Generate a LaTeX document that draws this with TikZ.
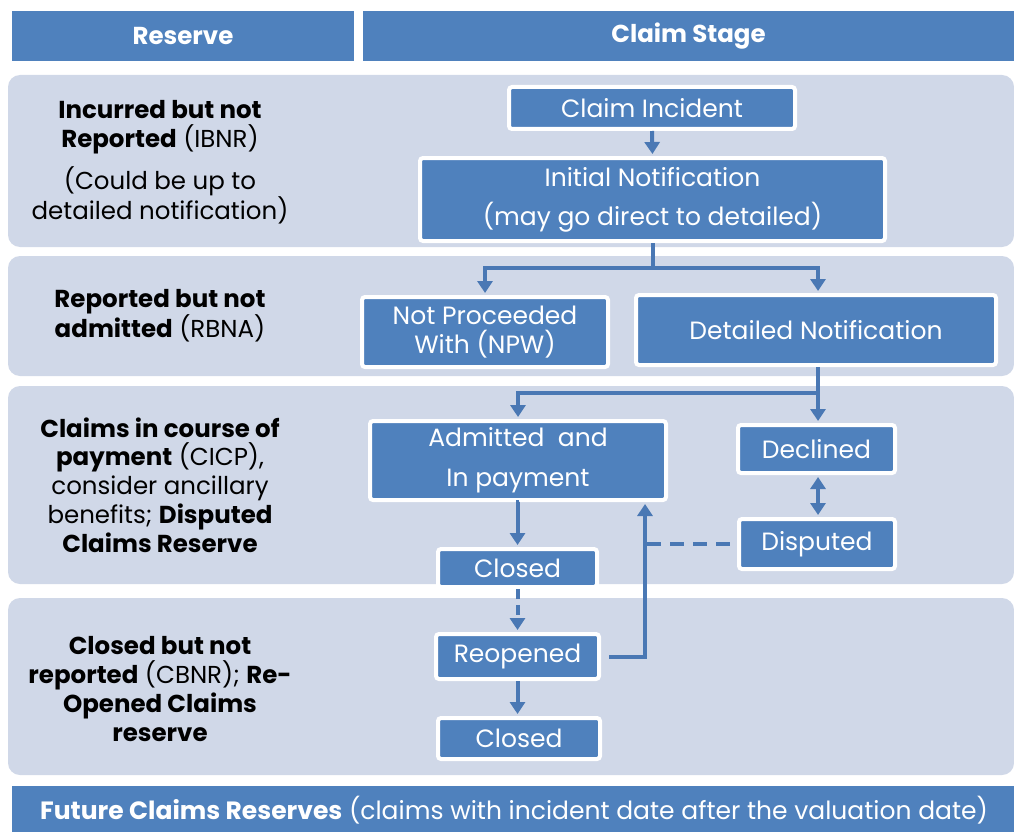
\documentclass[tikz,border=0pt]{standalone}
\usepackage{fontspec}
\setmainfont{Poppins}
\usetikzlibrary{arrows.meta}
\definecolor{hblue}{HTML}{4F81BD}
\definecolor{aline}{HTML}{4A78B4}
\definecolor{band}{HTML}{D0D8E8}
\tikzset{
  box/.style={fill=hblue, draw=white, line width=4pt, rounded corners=3pt, text=white, align=center, inner sep=0pt, font=\fontsize{25}{39}\selectfont},
  lefttxt/.style={align=center, inner sep=0pt, font=\fontsize{24.5}{28.8}\selectfont},
  conn/.style={draw=aline, line width=4pt},
  arr/.style={conn, -{Triangle[width=15pt,length=12pt]}, shorten >=2pt},
  darr/.style={conn, {Triangle[width=15pt,length=12pt]}-{Triangle[width=15pt,length=12pt]}, shorten >=2pt, shorten <=2pt},
  dsh/.style={dash pattern=on 14pt off 9pt},
  hdr/.style={fill=hblue, text=white, inner sep=0pt, font=\bfseries\fontsize{24.5}{28}\selectfont}
}
\begin{document}
\begin{tikzpicture}[x=1pt,y=-1pt]
\useasboundingbox (0,0) rectangle (1014,832);
\fill[white] (0,0) rectangle (1014,832);
% header
\node[hdr, minimum width=342pt, minimum height=50pt] (hres) at (183,36) {Reserve};
\node[hdr, minimum width=651pt, minimum height=50pt] (hcs) at (688.5,36) {Claim Stage};
% bands
\fill[band, rounded corners=12pt] (8,75) rectangle (1014,247);
\fill[band, rounded corners=12pt] (8,256) rectangle (1014,376);
\fill[band, rounded corners=12pt] (8,386) rectangle (1014,584);
\fill[band, rounded corners=12pt] (8,598) rectangle (1014,775);
% footer
\fill[hblue] (12,786) rectangle (1014,832);
\node[anchor=west, text=white, inner sep=0pt, font=\fontsize{25}{28}\selectfont] (foot) at (40,810) {\textbf{Future Claims Reserves} (claims with incident date after the valuation date)};
% left texts
\node[lefttxt] (l1a) at (160,127) {\textbf{Incurred but not}\\\textbf{Reported} (IBNR)};
\node[lefttxt] (l1b) at (160,195) {(Could be up to\\detailed notification)};
\node[lefttxt] (l2) at (160,316) {\textbf{Reported but not}\\\textbf{admitted} (RBNA)};
\node[lefttxt] (l3) at (160,485) {\textbf{Claims in course of}\\\textbf{payment} (CICP),\\consider ancillary\\benefits; \textbf{Disputed}\\\textbf{Claims Reserve}};
\node[lefttxt] (l4) at (160,689) {\textbf{Closed but not}\\\textbf{reported} (CBNR); \textbf{Re-}\\\textbf{Opened Claims}\\\textbf{reserve}};
% boxes
\node[box, minimum width=286pt, minimum height=42pt] (ci) at (652,108) {Claim Incident};
\node[box, minimum width=465pt, minimum height=83pt] (in) at (652.5,199.5) {Initial Notification\\(may go direct to detailed)};
\node[box, minimum width=246pt, minimum height=70pt, font=\fontsize{25}{29}\selectfont] (npw) at (485,332) {Not Proceeded\\With (NPW)};
\node[box, minimum width=360pt, minimum height=70pt] (dn) at (816,330) {Detailed Notification};
\node[box, minimum width=296pt, minimum height=79pt, font=\fontsize{25}{40}\selectfont] (ap) at (518,460.5) {Admitted\ \ and\\In payment};
\node[box, minimum width=157pt, minimum height=48pt] (de) at (816.5,449) {Declined};
\node[box, minimum width=156pt, minimum height=50pt] (di) at (817,544) {Disputed};
\node[box, minimum width=159pt, minimum height=38pt] (c1) at (517.5,568) {Closed};
\node[box, minimum width=163pt, minimum height=45pt] (ro) at (517.5,656.5) {Reopened};
\node[box, minimum width=162pt, minimum height=41pt] (c2) at (519,738.5) {Closed};
% connectors
\draw[arr] (ci.south) -- (in.north);
\draw[conn] (in.south) -- ++(0,25) coordinate (j1);
\draw[arr] (j1) -| (npw.north);
\draw[arr] (j1) -| ([xshift=2pt]dn.north);
\draw[conn] ([xshift=2pt]dn.south) -- ++(0,26) coordinate (j2);
\draw[arr] (j2) -| (ap.north);
\draw[arr] (j2) -- ([xshift=1.5pt]de.north);
\draw[darr] ([xshift=1.5pt]de.south) -- ([xshift=1pt]di.north);
\draw[arr] (ap.south) -- (c1.south |- ap.south) -- (c1.north);
\draw[arr, dash pattern=on 10pt off 6pt] (c1.south) -- (ro.north);
\draw[arr] (ro.south) -- (c2.north -| ro.south);
\coordinate (k) at (645,0);
\draw[arr] ([xshift=8pt]ro.east) -- (k |- ro.east) -- (k |- ap.south);
\draw[conn, dsh] ([xshift=2pt]k |- di.west) -- (di.west);
\end{tikzpicture}
\end{document}
